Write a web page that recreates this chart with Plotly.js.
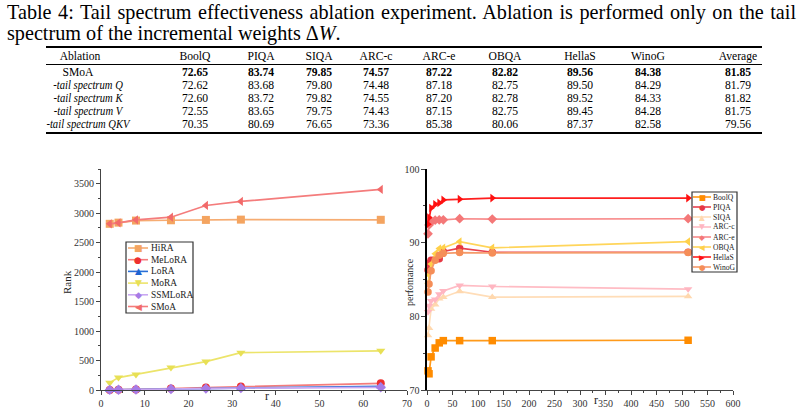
<!DOCTYPE html>
<html>
<head>
<meta charset="utf-8">
<script src="https://cdn.plot.ly/plotly-3.0.1.min.js"></script>
<style>
  html, body { margin:0; padding:0; background:#fff; }
  #wrap { position:relative; width:805px; height:413px; overflow:hidden; font-family:"Liberation Serif", "DejaVu Serif", serif; color:#000; }
  #chart { position:absolute; left:0; top:0; width:805px; height:413px; }
  .capline { position:absolute; left:7px; width:789px; font-size:20.2px; line-height:21px; white-space:nowrap; z-index:2; }
  #cap1 { top:2px; text-align:justify; text-align-last:justify; white-space:normal; }
  #cap2 { top:23px; }
  .cell { position:absolute; font-size:12.5px; line-height:13px; white-space:nowrap; transform:translateX(-50%) scaleX(0.93); z-index:2; }
  .cell.lab { transform:translateX(-50%) scaleX(0.85); }
  .rule { position:absolute; background:#000; z-index:2; }
</style>
</head>
<body>
<div id="wrap">
  <div id="chart"></div>
  <div id="cap1" class="capline">Table 4: Tail spectrum effectiveness ablation experiment. Ablation is performed only on the tail</div>
  <div id="cap2" class="capline">spectrum of the incremental weights Δ<i>W</i>.</div>
  <div id="tbl"></div>
</div>
<script>
// ---------------- Table data ----------------
const tableHeaders = ["Ablation", "BoolQ", "PIQA", "SIQA", "ARC-c", "ARC-e", "OBQA", "HellaS", "WinoG", "Average"];
const rowLabels = ["SMoA", "-tail spectrum Q", "-tail spectrum K", "-tail spectrum V", "-tail spectrum QKV"];
const rowSMoA = ["72.65", "83.74", "79.85", "74.57", "87.22", "82.82", "89.56", "84.38", "81.85"];
const rowQ    = ["72.62", "83.68", "79.80", "74.48", "87.18", "82.75", "89.50", "84.29", "81.79"];
const rowK    = ["72.60", "83.72", "79.82", "74.55", "87.20", "82.78", "89.52", "84.33", "81.82"];
const rowV    = ["72.55", "83.65", "79.75", "74.43", "87.15", "82.75", "89.45", "84.28", "81.75"];
const rowQKV  = ["70.35", "80.69", "76.65", "73.36", "85.38", "80.06", "87.37", "82.58", "79.56"];

// ---------------- Left chart data (Rank vs r) ----------------
const rLeft = [2, 4, 8, 16, 24, 32, 64];
const leftNames = ["HiRA", "MeLoRA", "LoRA", "MoRA", "SSMLoRA", "SMoA"];
const rankHiRA    = [2820, 2840, 2875, 2880, 2886, 2891, 2888];
const rankMeLoRA  = [2, 4, 8, 24, 41, 58, 114];
const rankLoRA    = [2, 4, 8, 16, 24, 32, 64];
const rankMoRA    = [125, 210, 265, 380, 482, 633, 665];
const rankSSMLoRA = [2, 4, 8, 16, 24, 32, 46];
const rankSMoA    = [2819, 2836, 2888, 2932, 3131, 3199, 3403];

// ---------------- Right chart data (performance vs r) ----------------
const rRight = [2, 4, 8, 16, 24, 32, 64, 128, 512];
const rightNames = ["BoolQ", "PIQA", "SIQA", "ARC-c", "ARC-e", "OBQA", "HellaS", "WinoG"];
const perfBoolQ  = [72.6, 72.2, 74.5, 75.7, 76.4, 76.7, 76.7, 76.7, 76.75];
const perfPIQA   = [86.3, 87.2, 87.6, 87.7, 87.8, 88.8, 89.25, 88.7, 88.7];
const perfSIQA   = [77.4, 78.4, 81.0, 81.6, 82.4, 82.6, 83.4, 82.6, 82.7];
const perfARCc   = [80.6, 81.45, 82.1, 82.3, 83.0, 83.45, 84.2, 84.05, 83.7];
const perfARCe   = [91.2, 92.4, 92.8, 93.05, 93.1, 93.1, 93.25, 93.2, 93.25];
const perfOBQA   = [84.5, 85.6, 87.1, 88.5, 89.2, 89.3, 90.15, 89.3, 90.15];
const perfHellaS = [92.5, 93.4, 94.7, 95.2, 95.4, 95.8, 95.9, 96.05, 96.05];
const perfWinoG  = [83.3, 84.4, 86.2, 87.6, 88.3, 88.55, 88.65, 88.6, 88.65];

// ---------------- Build table (layout only) ----------------
const colX = [80, 195, 261, 319, 376, 439, 505, 580, 648, 738];
const labX = 88;
const headerY = 50, rowY0 = 66, rowStep = 13;
const tbl = document.getElementById('tbl');
function addCell(txt, x, y, opts) {
  const d = document.createElement('div');
  d.className = 'cell' + (opts && opts.lab ? ' lab' : '');
  d.style.left = x + 'px'; d.style.top = y + 'px';
  if (opts && opts.bold) d.style.fontWeight = 'bold';
  if (opts && opts.italic) d.style.fontStyle = 'italic';
  d.textContent = txt;
  tbl.appendChild(d);
}
function addRule(x1, x2, y, h) {
  const d = document.createElement('div');
  d.className = 'rule';
  d.style.left = x1 + 'px'; d.style.width = (x2 - x1) + 'px';
  d.style.top = y + 'px'; d.style.height = h + 'px';
  tbl.appendChild(d);
}
addRule(46, 762, 46, 1.6);
addRule(46, 762, 64, 0.8);
addRule(46, 762, 132, 1.6);
tableHeaders.forEach((h, i) => addCell(h, colX[i], headerY));
const rows = [rowSMoA, rowQ, rowK, rowV, rowQKV];
rows.forEach((vals, r) => {
  const y = rowY0 + r * rowStep;
  if (r === 0) addCell(rowLabels[r], colX[0] - 2, y);
  else addCell(rowLabels[r], labX, y, {italic: true, lab: true});
  vals.forEach((v, c) => addCell(v, colX[c + 1], y, {bold: r === 0}));
});

// ---------------- Plotly ----------------
const W = 805, H = 413;
const px = x => x / W;
const py = y => 1 - y / H;
const FONT = "Liberation Serif, DejaVu Serif, serif";

const leftYs = [rankHiRA, rankMeLoRA, rankLoRA, rankMoRA, rankSSMLoRA, rankSMoA];
const leftLine = ["#F6AC72", "#F47C7C", "#2A6FD6", "#ECE46A", "#C9A8F2", "#F47C7C"];
const leftMark = ["#F4A460", "#EE3030", "#1E64D2", "#E8E055", "#A77CE6", "#F26A6A"];
const leftSym  = ["square", "circle", "triangle-up", "triangle-down", "diamond", "triangle-left"];
const leftGlyph = ["■", "●", "▲", "▼", "◆", "◀"];

const rightYs = [perfBoolQ, perfPIQA, perfSIQA, perfARCc, perfARCe, perfOBQA, perfHellaS, perfWinoG];
const rightLine = ["#FF9A1A", "#E8424E", "#FFDDB8", "#FFBCC4", "#F88A8A", "#FFD55A", "#FF1E1E", "#F59A6A"];
const rightMark = ["#FF8C00", "#E63844", "#FFD8AE", "#FFB6C1", "#F47878", "#FFD04A", "#FF1010", "#F58E58"];
const rightSym  = ["square", "circle", "triangle-up", "triangle-down", "diamond", "triangle-left", "triangle-right", "circle"];
const rightGlyph = ["■", "●", "▲", "▼", "◆", "◀", "▶", "●"];

const traces = [];
leftYs.forEach((ys, i) => traces.push({
  x: rLeft, y: ys, type: 'scatter', mode: 'lines+markers', name: leftNames[i],
  xaxis: 'x', yaxis: 'y', cliponaxis: false, showlegend: false,
  line: {color: leftLine[i], width: 1.7},
  marker: {symbol: leftSym[i], color: leftMark[i], size: 8}
}));
rightYs.forEach((ys, i) => traces.push({
  x: rRight, y: ys, type: 'scatter', mode: 'lines+markers', name: rightNames[i],
  xaxis: 'x2', yaxis: 'y2', cliponaxis: false, showlegend: false,
  line: {color: rightLine[i], width: 1.7},
  marker: {symbol: rightSym[i], color: rightMark[i], size: 7.5}
}));

const tickfont = {family: FONT, size: 10, color: '#333'};
const axBase = {
  showgrid: false, zeroline: false, showline: true, linecolor: '#444', linewidth: 1,
  ticks: 'outside', ticklen: 4, tickcolor: '#444', tickwidth: 1, tickfont: tickfont,
  fixedrange: true
};
const yDom = [py(390), py(169)];

const shapes = [], annotations = [];
function ann(x, y, text, size, extra) {
  annotations.push(Object.assign({xref:'paper', yref:'paper', x:px(x), y:py(y), text:text, showarrow:false,
    xanchor:'center', yanchor:'middle', font:{family:FONT, size:size, color:'#222'}}, extra || {}));
}
// axis titles
ann(67, 282, 'Rank', 11, {textangle:-90});
ann(267, 396, 'r', 12);
ann(409, 282, 'perfomance', 10, {textangle:-90});
ann(596, 400, 'r', 12);

// custom legends
function legend(names, lines, marks, glyphs, box, y0, step, fs, gfs, lx1, lx2, tx) {
  shapes.push({type:'rect', xref:'paper', yref:'paper', x0:px(box[0]), x1:px(box[1]), y0:py(box[2]), y1:py(box[3]), line:{color:'#333', width:1.2}, fillcolor:'rgba(255,255,255,1)', layer:'above'});
  names.forEach((n, i) => {
    const y = y0 + i * step;
    shapes.push({type:'line', xref:'paper', yref:'paper', x0:px(lx1), x1:px(lx2), y0:py(y), y1:py(y), line:{color:lines[i], width:1.6}, layer:'above'});
    annotations.push({xref:'paper', yref:'paper', x:px((lx1 + lx2) / 2), y:py(y), text:glyphs[i], showarrow:false, font:{family:'DejaVu Sans', size:gfs, color:marks[i]}, xanchor:'center', yanchor:'middle'});
    annotations.push({xref:'paper', yref:'paper', x:px(tx), y:py(y), text:n, showarrow:false, font:{family:FONT, size:fs, color:'#222'}, xanchor:'left', yanchor:'middle'});
  });
}
legend(leftNames, leftLine, leftMark, leftGlyph, [126, 193, 242, 313], 248, 11.7, 9.4, 9, 128, 148, 149);
legend(rightNames, rightLine, rightMark, rightGlyph, [692, 737, 192, 272], 197, 10, 7.6, 7.5, 693, 711, 711);

const layout = {
  width: W, height: H, margin: {l:0, r:0, t:0, b:0},
  paper_bgcolor: 'rgba(0,0,0,0)', plot_bgcolor: 'rgba(0,0,0,0)',
  showlegend: false, font: {family: FONT},
  xaxis: Object.assign({}, axBase, {domain:[px(101), px(407)], range:[0, 70], dtick:10, anchor:'y',
    minor:{dtick:5, ticks:'outside', ticklen:2, tickcolor:'#444'}}),
  yaxis: Object.assign({}, axBase, {domain:yDom, range:[0, 3750], dtick:500, anchor:'x',
    minor:{dtick:250, ticks:'outside', ticklen:2, tickcolor:'#444'}}),
  xaxis2: Object.assign({}, axBase, {domain:[px(427), px(733)], range:[0, 600], dtick:50, anchor:'y2',
    minor:{dtick:25, ticks:'outside', ticklen:2, tickcolor:'#444'}}),
  yaxis2: Object.assign({}, axBase, {domain:yDom, range:[70, 100], dtick:10, anchor:'x2', linecolor:'#000', linewidth:1.6,
    minor:{dtick:5, ticks:'outside', ticklen:2, tickcolor:'#444'}}),
  shapes: shapes, annotations: annotations
};
Plotly.newPlot('chart', traces, layout, {staticPlot: true, displayModeBar: false});
</script>
</body>
</html>
